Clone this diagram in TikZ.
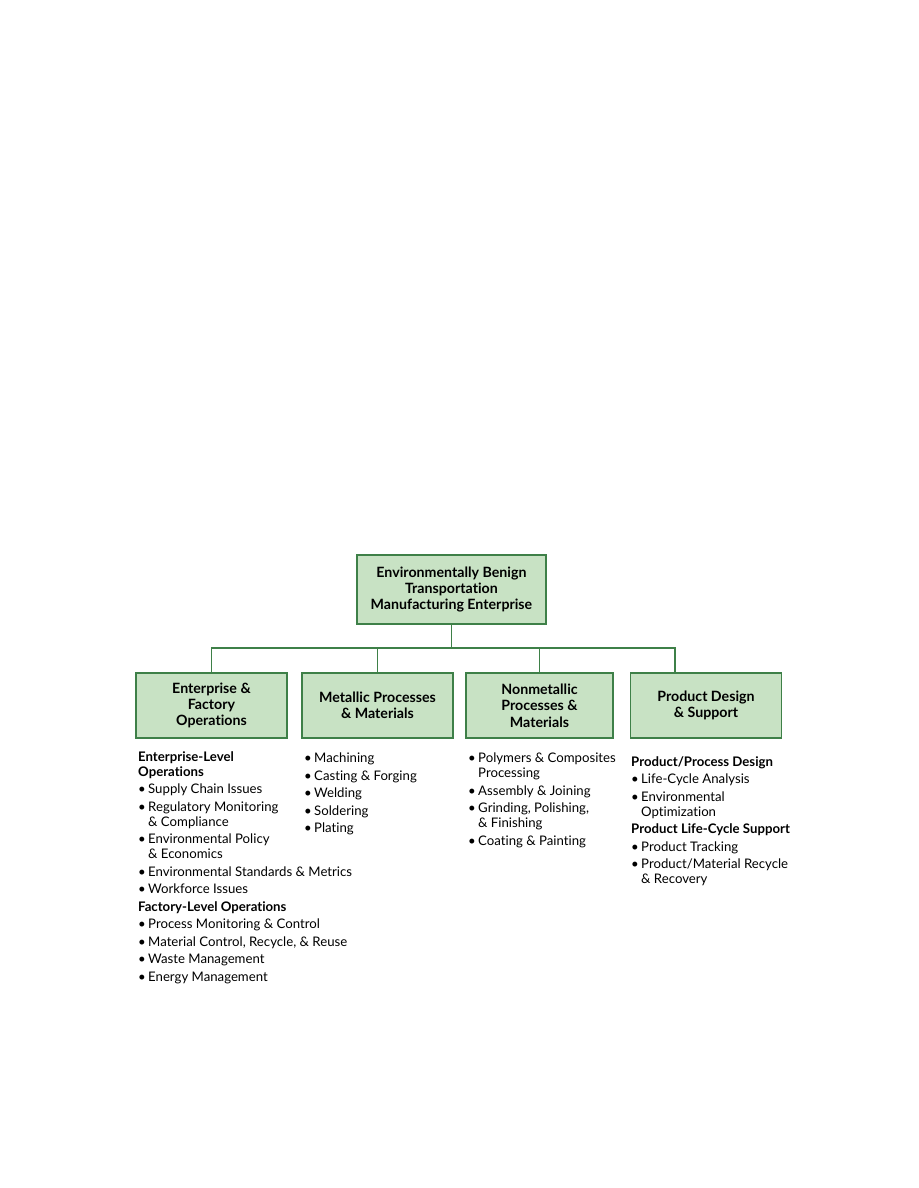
\documentclass[tikz,border=0pt]{standalone}
\usepackage{fontspec}
\setmainfont{Lato}[Ligatures=NoCommon]
\usetikzlibrary{positioning}
\definecolor{boxgreen}{RGB}{200,226,196}
\definecolor{linegreen}{RGB}{62,128,72}
\newcommand{\bitem}[1]{\makebox[10pt][l]{\textbullet}#1}
\newcommand{\bcont}[1]{\hspace*{10pt}#1}

\tikzset{
  topic/.style={draw=linegreen, fill=boxgreen, line width=1.2pt, align=center,
    minimum width=151pt, minimum height=65pt, inner sep=2pt,
    font=\fontsize{14.2}{16.3}\selectfont\bfseries},
  link/.style={draw=linegreen, line width=1.2pt},
  list/.style={anchor=north west, align=left, inner sep=0pt,
    font=\fontsize{13.2}{15}\selectfont}
}

\begin{document}
\begin{tikzpicture}[x=1pt, y=-1pt]
  \useasboundingbox (0,0) rectangle (918,1188);

  % boxes
  \node[topic, minimum width=189pt, minimum height=69pt] (top) at (451.5,589.5)
    {Environmentally Benign\\Transportation\\Manufacturing Enterprise};
  \node[topic] (ent) at (211.5,705.5) {Enterprise \&\\Factory\\Operations};
  \node[topic] (met) at (377.5,705.5) {Metallic Processes\\\& Materials};
  \node[topic, minimum width=147pt] (non) at (539.5,705.5) {Nonmetallic\\Processes \&\\Materials};
  \node[topic] (prod) at (706,705.5) {Product Design\\\& Support};

  % connectors
  \coordinate (bus) at (top.south |- 0,648);
  \draw[link] (top.south) -- (bus);
  \draw[link] (ent.north) |- (bus);
  \draw[link] (met.north) |- (bus);
  \draw[link] (non.north) |- (bus);
  \draw[link] ([xshift=-31pt]prod.north) |- (bus);

  % lists
  \node[list] (entlist) at (138,751) {%
    \textbf{Enterprise-Level}\\\textbf{Operations}\\[2.5pt]
    \bitem{Supply Chain Issues}\\[2.5pt]
    \bitem{Regulatory Monitoring}\\\bcont{\& Compliance}\\[2.5pt]
    \bitem{Environmental Policy}\\\bcont{\& Economics}\\[2.5pt]
    \bitem{Environmental Standards \& Metrics}\\[2.5pt]
    \bitem{Workforce Issues}\\[2.5pt]
    \textbf{Factory-Level Operations}\\[2.5pt]
    \bitem{Process Monitoring \& Control}\\[2.5pt]
    \bitem{Material Control, Recycle, \& Reuse}\\[2.5pt]
    \bitem{Waste Management}\\[2.5pt]
    \bitem{Energy Management}};
  \node[list] (metlist) at (304,753) {%
    \bitem{Machining}\\[2.5pt]
    \bitem{Casting \& Forging}\\[2.5pt]
    \bitem{Welding}\\[2.5pt]
    \bitem{Soldering}\\[2.5pt]
    \bitem{Plating}};
  \node[list] (nonlist) at (468,753) {%
    \bitem{Polymers \& Composites}\\\bcont{Processing}\\[2.5pt]
    \bitem{Assembly \& Joining}\\[2.5pt]
    \bitem{Grinding, Polishing,}\\\bcont{\& Finishing}\\[2.5pt]
    \bitem{Coating \& Painting}};
  \node[list] (prodlist) at (631,756) {%
    \textbf{Product/Process Design}\\[2.5pt]
    \bitem{Life-Cycle Analysis}\\[2.5pt]
    \bitem{Environmental}\\\bcont{Optimization}\\[2.5pt]
    \textbf{Product Life-Cycle Support}\\[2.5pt]
    \bitem{Product Tracking}\\[2.5pt]
    \bitem{Product/Material Recycle}\\\bcont{\& Recovery}};
\end{tikzpicture}
\end{document}
